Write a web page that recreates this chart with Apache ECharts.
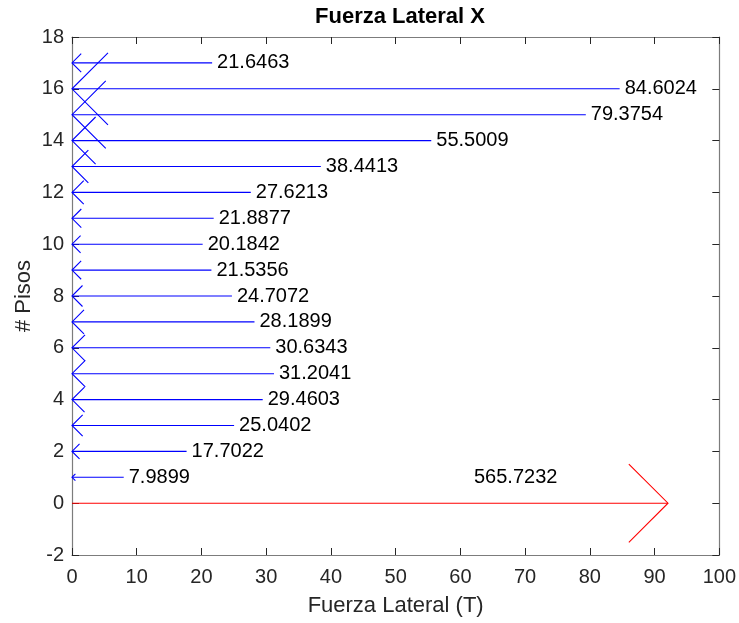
<!DOCTYPE html>
<html>
<head>
<meta charset="utf-8">
<title>Fuerza Lateral X</title>
<script src="https://cdn.jsdelivr.net/npm/echarts@6/dist/echarts.min.js"></script>
<style>
  html, body { margin: 0; padding: 0; background: #fff; }
  #chart { width: 739px; height: 623px; }
</style>
</head>
<body>
<div id="chart"></div>
<script>
// Storey numbers and lateral force per storey (T)
const floors = [1, 2, 3, 4, 5, 6, 7, 8, 9, 10, 11, 12, 13, 14, 15, 16, 17];
const forces = [7.9899, 17.7022, 25.0402, 29.4603, 31.2041, 30.6343, 28.1899, 24.7072,
                21.5356, 20.1842, 21.8877, 27.6213, 38.4413, 55.5009, 79.3754, 84.6024, 21.6463];

// Axis ticks
const xTicks = [0, 10, 20, 30, 40, 50, 60, 70, 80, 90, 100];
const yTicks = [-2, 0, 2, 4, 6, 8, 10, 12, 14, 16, 18];

// Base shear: sum of storey forces, drawn as one arrow at a reduced scale
const baseShear = forces.reduce((a, b) => a + b, 0);
const baseArrowScale = 0.16275;
const baseLabelPos = [62.1, 1];

// Arrowhead geometry, quiver style (data units, relative to arrow length)
const HEAD_ALPHA = 0.0657;
const HEAD_BETA = 0.25;

const FONT = "'Liberation Sans', Arial, Helvetica, sans-serif";
const AXIS_GREY = '#7c7c7c';
const TICK_DARK = '#262626';

const chart = echarts.init(document.getElementById('chart'), null, { renderer: 'canvas' });

// Arrow whose tip sits at (tipX, y); u is the signed x-component (tail -> tip)
function arrowShape(api, tipX, y, u, color, withLabel, labelText) {
  const tail = api.coord([tipX - u, y]);
  const tip = api.coord([tipX, y]);
  const h1 = api.coord([tipX - HEAD_ALPHA * u, y - HEAD_ALPHA * HEAD_BETA * Math.abs(u)]);
  const h2 = api.coord([tipX - HEAD_ALPHA * u, y + HEAD_ALPHA * HEAD_BETA * Math.abs(u)]);
  const style = { stroke: color, lineWidth: 1.1, fill: null };
  const children = [
    { type: 'polyline', shape: { points: [tail, tip] }, style: style },
    { type: 'polyline', shape: { points: [h1, tip, h2] }, style: style }
  ];
  if (withLabel) {
    children.push({
      type: 'text',
      x: tail[0] + 5,
      y: tail[1],
      style: {
        text: labelText,
        fill: '#000',
        font: '20px ' + FONT,
        textAlign: 'left',
        textVerticalAlign: 'middle'
      }
    });
  }
  return { type: 'group', children: children };
}

const axisCommon = {
  type: 'value',
  splitLine: { show: false },
  axisLine: { show: true, onZero: false, lineStyle: { color: AXIS_GREY, width: 1.2 } },
  axisTick: { show: true, inside: true, length: 7, lineStyle: { color: TICK_DARK, width: 1 } },
  axisLabel: { color: TICK_DARK, fontSize: 20, fontFamily: FONT },
  nameTextStyle: { color: TICK_DARK, fontSize: 22, fontFamily: FONT }
};

const option = {
  backgroundColor: '#ffffff',
  animation: false,
  title: {
    text: 'Fuerza Lateral X',
    left: 395,
    textAlign: 'center',
    top: 1,
    textStyle: { fontSize: 22, fontWeight: 'bold', color: '#000', fontFamily: FONT }
  },
  grid: { left: 72, top: 37, width: 648, height: 518, containLabel: false },
  xAxis: [
    Object.assign({}, axisCommon, {
      position: 'bottom',
      min: xTicks[0], max: xTicks[xTicks.length - 1], interval: xTicks[1] - xTicks[0],
      name: 'Fuerza Lateral (T)', nameLocation: 'middle', nameGap: 40, nameMoveOverlap: false,
      axisLabel: Object.assign({}, axisCommon.axisLabel, { margin: 12 })
    }),
    Object.assign({}, axisCommon, {
      position: 'top',
      min: xTicks[0], max: xTicks[xTicks.length - 1], interval: xTicks[1] - xTicks[0],
      axisLabel: { show: false }
    })
  ],
  yAxis: [
    Object.assign({}, axisCommon, {
      position: 'left',
      min: yTicks[0], max: yTicks[yTicks.length - 1], interval: yTicks[1] - yTicks[0],
      name: '# Pisos', nameLocation: 'middle', nameGap: 37, nameMoveOverlap: false,
      axisLabel: Object.assign({}, axisCommon.axisLabel, { margin: 8 })
    }),
    Object.assign({}, axisCommon, {
      position: 'right',
      min: yTicks[0], max: yTicks[yTicks.length - 1], interval: yTicks[1] - yTicks[0],
      axisLabel: { show: false }
    })
  ],
  series: [
    {
      // Storey forces: arrows pointing to the building axis (x = 0)
      type: 'custom',
      name: 'Fuerzas',
      xAxisIndex: 0,
      yAxisIndex: 0,
      clip: false,
      data: floors.map((f, i) => [forces[i], f]),
      renderItem: function (params, api) {
        const v = api.value(0);
        const y = api.value(1);
        return arrowShape(api, 0, y, -v, '#0000ff', true, String(forces[params.dataIndex]));
      }
    },
    {
      // Base shear arrow
      type: 'custom',
      name: 'Cortante basal',
      xAxisIndex: 0,
      yAxisIndex: 0,
      clip: false,
      data: [[baseShear * baseArrowScale, 0]],
      renderItem: function (params, api) {
        const L = api.value(0);
        const y = api.value(1);
        return arrowShape(api, L, y, L, '#ff0000', false, '');
      }
    },
    {
      // Base shear value
      type: 'custom',
      name: 'Etiqueta',
      xAxisIndex: 0,
      yAxisIndex: 0,
      clip: false,
      data: [baseLabelPos],
      renderItem: function (params, api) {
        const p = api.coord([api.value(0), api.value(1)]);
        return {
          type: 'text',
          x: p[0],
          y: p[1],
          style: {
            text: baseShear.toFixed(4),
            fill: '#000',
            font: '20px ' + FONT,
            textAlign: 'left',
            textVerticalAlign: 'middle'
          }
        };
      }
    }
  ]
};

chart.setOption(option);
</script>
</body>
</html>
